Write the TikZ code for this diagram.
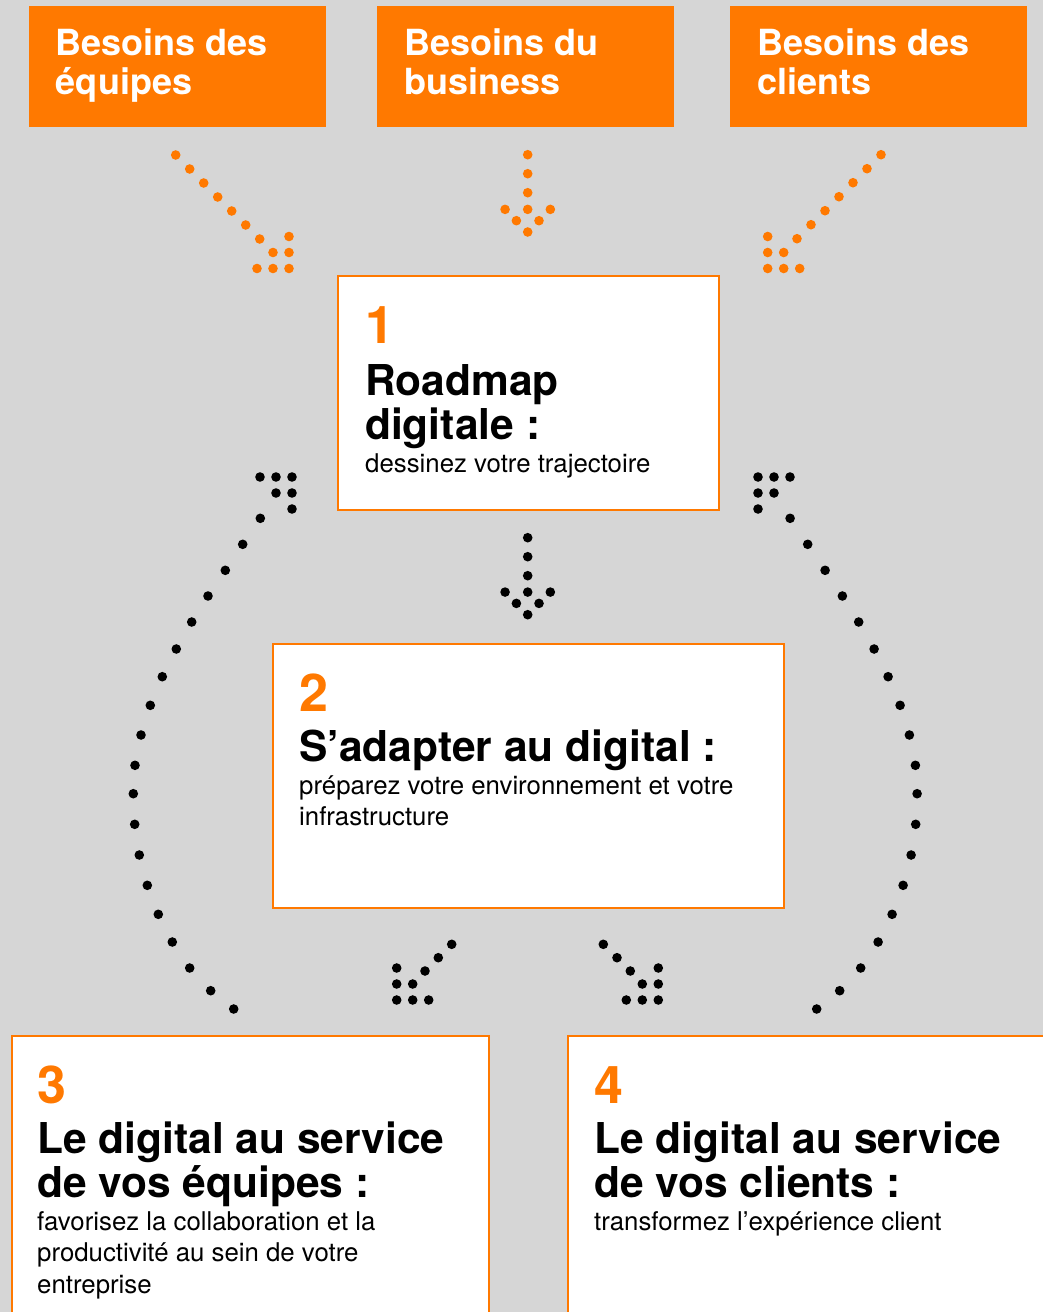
\documentclass[tikz,border=0pt]{standalone}
\usepackage{fontspec}
\setmainfont{TeX Gyre Heros}
\definecolor{orng}{HTML}{FF7900}
\definecolor{bggray}{HTML}{D6D6D6}
\tikzset{
  obox/.style={fill=orng, draw=none, inner sep=0pt, anchor=north west},
  wbox/.style={fill=white, draw=orng, line width=2pt, inner sep=0pt, anchor=north west},
  needtxt/.style={font=\fontsize{36}{39}\selectfont\bfseries, text=white, inner sep=0pt, anchor=base west},
  numtxt/.style={font=\fontsize{52}{52}\selectfont\bfseries, text=orng, inner sep=0pt, anchor=base west},
  ttltxt/.style={font=\fontsize{42.5}{44}\selectfont\bfseries, text=black, inner sep=0pt, anchor=base west},
  subtxt/.style={font=\fontsize{25.8}{31}\selectfont, text=black, inner sep=0pt, anchor=base west},
  ahead/.pic={\foreach \a/\b in {0/0,-16/0,-32/0,0/-16,0/-32,-16/-16} \fill[#1] (\a,\b) circle (4.8pt);}
}
\begin{document}
\begin{tikzpicture}[x=1pt,y=-1pt]
\useasboundingbox (0,0) rectangle (1043,1312);
\clip (0,0) rectangle (1043,1312);
\fill[bggray] (0,0) rectangle (1043,1312);

% top need boxes
\node[obox, minimum width=297pt, minimum height=121pt] (need1) at (29,6) {};
\node[obox, minimum width=297pt, minimum height=121pt] (need2) at (377,6) {};
\node[obox, minimum width=297pt, minimum height=121pt] (need3) at (730,6) {};
\node[needtxt] (n1a) at (55.7,55.5) {Besoins des};
\node[needtxt] (n1b) at (55.7,94.3) {équipes};
\node[needtxt] (n2a) at (404,55.5) {Besoins du};
\node[needtxt] (n2b) at (404,94.3) {business};
\node[needtxt] (n3a) at (757,55.5) {Besoins des};
\node[needtxt] (n3b) at (757,94.3) {clients};

% step boxes
\node[wbox, minimum width=381pt, minimum height=234pt] (s1) at (337,275) {};
\node[wbox, minimum width=511pt, minimum height=264pt] (s2) at (272,643) {};
\node[wbox, minimum width=477pt, minimum height=320pt] (s3) at (11,1035) {};
\node[wbox, minimum width=520pt, minimum height=320pt] (s4) at (567,1035) {};

% box 1
\node[numtxt] (s1n) at (365,343) {1};
\node[ttltxt] (s1t1) at (365,395) {Roadmap};
\node[ttltxt] (s1t2) at (365,439) {digitale :};
\node[subtxt] (s1s1) at (365,472) {dessinez votre trajectoire};
% box 2
\node[numtxt] (s2n) at (299,711) {2};
\node[ttltxt] (s2t1) at (299,761) {S’adapter au digital :};
\node[subtxt] (s2s1) at (299,794) {préparez votre environnement et votre};
\node[subtxt] (s2s2) at (299,825) {infrastructure};
% box 3
\node[numtxt] (s3n) at (37,1103) {3};
\node[ttltxt] (s3t1) at (37,1153.5) {Le digital au service};
\node[ttltxt] (s3t2) at (37,1197) {de vos équipes :};
\node[subtxt] (s3s1) at (37,1230) {favorisez la collaboration et la};
\node[subtxt] (s3s2) at (37,1261.5) {productivité au sein de votre};
\node[subtxt] (s3s3) at (37,1293) {entreprise};
% box 4
\node[numtxt] (s4n) at (594,1103) {4};
\node[ttltxt] (s4t1) at (594,1153.5) {Le digital au service};
\node[ttltxt] (s4t2) at (594,1197) {de vos clients :};
\node[subtxt] (s4s1) at (594,1230) {transformez l’expérience client};

% arrow tips
\coordinate (tipA) at (289,268.5);
\coordinate (tipB) at (527.7,232);
\coordinate (tipC) at (767.7,268.5);
\coordinate (tipD) at (527.7,614.7);
\coordinate (tipE) at (292,477);
\coordinate (tipF) at (758,477);
\coordinate (tipG) at (396.7,1000);
\coordinate (tipH) at (658.3,1000);

% orange arrows from needs to box 1
\foreach \k in {0,...,6} \fill[orng] ({175.7+14*\k},{155+14*\k}) circle (4.8pt);
\pic at (tipA) {ahead=orng};
\foreach \yy in {154.7,173.7,192.7} \fill[orng] (527.7,\yy) circle (4.8pt);
\pic[rotate=-45] at (tipB) {ahead=orng};
\foreach \k in {0,...,6} \fill[orng] ({881-14*\k},{154.7+14*\k}) circle (4.8pt);
\pic[rotate=-90] at (tipC) {ahead=orng};

% box 1 -> box 2
\foreach \yy in {537.7,556.7,575.7} \fill[black] (527.7,\yy) circle (4.8pt);
\pic[rotate=-45] at (tipD) {ahead=black};

% box 2 -> boxes 3 and 4
\foreach \a/\b in {451.7/944.3,438.3/957.7,425/971} \fill[black] (\a,\b) circle (4.8pt);
\pic[rotate=-90] at (tipG) {ahead=black};
\foreach \a/\b in {603.3/944.3,617/957.7,630.3/971} \fill[black] (\a,\b) circle (4.8pt);
\pic at (tipH) {ahead=black};

% feedback arcs from boxes 3 and 4 back to box 1
\foreach \a/\b in {260.3/518.3,242.7/544.3,225.3/570.3,208/596,191.7/622,176.3/649,
  162.3/676.7,150.3/705.3,141/735,135/765.3,133.3/793.7,134.7/824.3,139.3/855,
  147.3/885.3,158.3/914.3,172.3/942,189.7/968,210.7/990.7,233.7/1009}
{
  \fill[black] (\a,\b) circle (4.8pt);
  \fill[black] ({1050.4-\a},\b) circle (4.8pt);
}
\pic[rotate=90] at (tipE) {ahead=black};
\pic[rotate=180] at (tipF) {ahead=black};
\end{tikzpicture}
\end{document}
